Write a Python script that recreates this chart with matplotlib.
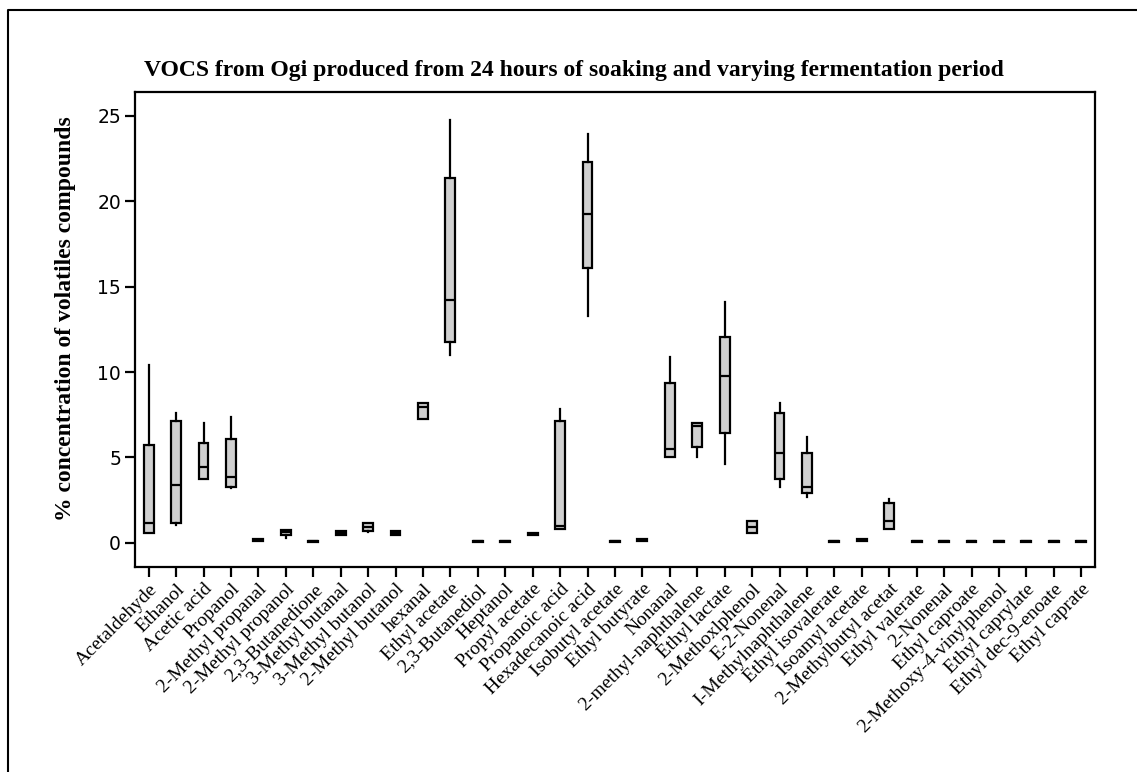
import numpy as np
import matplotlib
matplotlib.use('Agg')
import matplotlib.pyplot as plt
from matplotlib.lines import Line2D

compounds = [ 'Acetaldehyde', 'Ethanol', 'Acetic acid', 'Propanol'
        , '2-Methyl propanal', '2-Methyl propanol', '2,3-Butanedione'
        , '3-Methyl butanal', '3-Methyl butanol', '2-Methyl butanol'
        , 'hexanal', 'Ethyl acetate', '2,3-Butanediol', 'Heptanol'
        , 'Propyl acetate', 'Propanoic acid', 'Hexadecanoic acid'
        , 'Isobutyl acetate', 'Ethyl butyrate', 'Nonanal'
        , '2-methyl-naphthalene', 'Ethyl lactate', '2-Methoxlphenol'
        , 'E-2-Nonenal', 'I-Methylnaphthalene', 'Ethyl isovalerate'
        , 'Isoamyl acetate', '2-Methylbutyl acetat', 'Ethyl valerate'
        , '2-Nonenal', 'Ethyl caproate', '2-Methoxy-4-vinylphenol'
        , 'Ethyl caprylate', 'Ethyl dec-9-enoate', 'Ethyl caprate' ]

# five number summaries (% concentration)
whis_lo = [ 0.55, 1.05, 3.75, 3.20, 0.10, 0.26, 0.06, 0.45, 0.62, 0.45
        , 7.26, 11.00, 0.06, 0.06, 0.45, 0.80, 13.30, 0.06, 0.10, 5.04
        , 5.04, 4.60, 0.57, 3.28, 2.70, 0.06, 0.10, 0.79, 0.06, 0.06
        , 0.06, 0.06, 0.06, 0.06, 0.06 ]
q1 = [ 0.55, 1.14, 3.75, 3.27, 0.12, 0.45, 0.07, 0.45, 0.69, 0.45
        , 7.26, 11.75, 0.07, 0.07, 0.47, 0.80, 16.10, 0.07, 0.12, 5.04
        , 5.63, 6.45, 0.57, 3.75, 2.90, 0.07, 0.12, 0.79, 0.07, 0.07
        , 0.07, 0.07, 0.07, 0.07, 0.07 ]
median = [ 1.14, 3.38, 4.44, 3.85, 0.15, 0.62, 0.08, 0.57, 0.90, 0.57
        , 7.98, 14.20, 0.08, 0.08, 0.50, 1.00, 19.26, 0.08, 0.15, 5.48
        , 6.84, 9.78, 0.94, 5.24, 3.25, 0.08, 0.15, 1.29, 0.08, 0.08
        , 0.08, 0.08, 0.08, 0.08, 0.08 ]
q3 = [ 5.73, 7.16, 5.87, 6.08, 0.20, 0.78, 0.10, 0.69, 1.14, 0.69
        , 8.21, 21.37, 0.10, 0.10, 0.55, 7.14, 22.31, 0.10, 0.20, 9.38
        , 7.04, 12.08, 1.27, 7.63, 5.28, 0.10, 0.20, 2.35, 0.10, 0.10
        , 0.10, 0.10, 0.10, 0.10, 0.10 ]
whis_hi = [ 10.42, 7.59, 7.00, 7.35, 0.20, 0.78, 0.10, 0.69, 1.14, 0.69
        , 8.21, 24.75, 0.10, 0.10, 0.55, 7.82, 23.95, 0.10, 0.20, 10.90
        , 7.04, 14.10, 1.27, 8.18, 6.18, 0.10, 0.20, 2.55, 0.10, 0.10
        , 0.10, 0.10, 0.10, 0.10, 0.10 ]

stats = []
for i, name in enumerate( compounds ):
    stats.append( dict( label = name, whislo = whis_lo[i], q1 = q1[i]
        , med = median[i], q3 = q3[i], whishi = whis_hi[i], fliers = [] ) )

fig = plt.figure( figsize = (11.37, 7.72), dpi = 100 )
ax = fig.add_axes( [0.1187, 0.2659, 0.963 - 0.1187, 0.8808 - 0.2659] )

lw = 1.6
ax.bxp( stats, positions = np.arange( len(compounds) ), widths = 0.36
        , patch_artist = True, showcaps = False
        , boxprops = dict( facecolor = '#d0d0d0', edgecolor = 'black', linewidth = lw )
        , medianprops = dict( color = 'black', linewidth = lw )
        , whiskerprops = dict( color = 'black', linewidth = lw )
        )

ax.set_xlim( -0.5, len(compounds) - 0.5 )
ax.set_ylim( -1.4, 26.4 )
ax.set_yticks( [0, 5, 10, 15, 20, 25] )
ax.set_xticks( np.arange( len(compounds) ) )
ax.set_xticklabels( compounds, rotation = 45, ha = 'right'
        , rotation_mode = 'anchor', family = 'Liberation Serif', fontsize = 14 )
for lab in ax.get_yticklabels( ):
    lab.set_family( 'DejaVu Sans' )
    lab.set_fontsize( 13.5 )
ax.tick_params( axis = 'both', direction = 'out', length = 7, width = lw, pad = 3 )
for sp in ax.spines.values( ):
    sp.set_linewidth( lw )

ax.set_ylabel( '% concentration of volatiles compounds', family = 'Liberation Serif'
        , fontweight = 'bold', fontsize = 17 )
ax.yaxis.set_label_coords( -0.061, 0.523 )
fig.text( 0.505, 0.909
        , 'VOCS from Ogi produced from 24 hours of soaking and varying fermentation period'
        , ha = 'center', va = 'center', family = 'Liberation Serif'
        , fontweight = 'bold', fontsize = 17 )

# outer frame (left and top edges visible)
fig.add_artist( Line2D( [0.007, 0.007, 1.0], [0.0, 0.987, 0.987]
        , transform = fig.transFigure, color = 'black', linewidth = 1.5 ) )

fig.savefig( 'out.png', dpi = 100 )
